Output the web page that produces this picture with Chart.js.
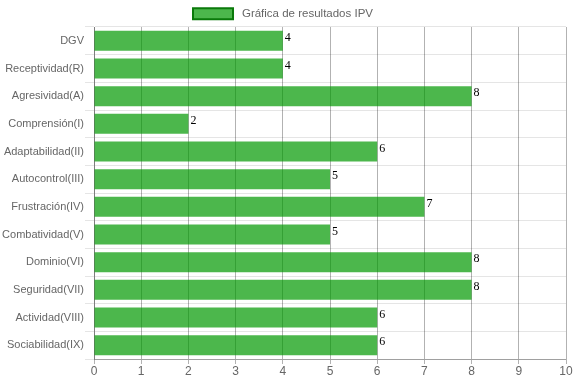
<!DOCTYPE html>
<html>
<head>
<meta charset="utf-8">
<script src="https://cdn.jsdelivr.net/npm/chart.js@4/dist/chart.umd.min.js"></script>
<style>
  html, body { margin: 0; padding: 0; background: #fff; }
  #wrap { width: 574px; height: 383px; }
</style>
</head>
<body>
<div id="wrap"><canvas id="ipvChart"></canvas></div>
<script>
// datos de la gráfica
const categorias = ['DGV', 'Receptividad(R)', 'Agresividad(A)', 'Comprensión(I)', 'Adaptabilidad(II)',
  'Autocontrol(III)', 'Frustración(IV)', 'Combatividad(V)', 'Dominio(VI)', 'Seguridad(VII)',
  'Actividad(VIII)', 'Sociabilidad(IX)'];
const resultados = [4, 4, 8, 2, 6, 5, 7, 5, 8, 8, 6, 6];
const serieNombre = 'Gráfica de resultados IPV';

Chart.defaults.font.family = 'Arial, "Liberation Sans", Helvetica, sans-serif';
Chart.defaults.font.size = 12;
Chart.defaults.color = '#666';

// etiquetas con el valor al final de cada barra
const valorPlugin = {
  id: 'valorPlugin',
  afterInit(chart) {
    // altura fija de la leyenda
    const fitOrig = chart.legend.fit;
    chart.legend.fit = function () {
      fitOrig.call(this);
      this.height = 27;
    };
  },
  afterDatasetsDraw(chart) {
    const ctx = chart.ctx;
    ctx.save();
    ctx.font = '12px "Liberation Serif", "Times New Roman", serif';
    ctx.fillStyle = '#000';
    ctx.textAlign = 'left';
    ctx.textBaseline = 'alphabetic';
    chart.getDatasetMeta(0).data.forEach(function (bar, i) {
      ctx.fillText(resultados[i], bar.x + 2, bar.y);
    });
    ctx.restore();
  }
};

new Chart(document.getElementById('ipvChart'), {
  type: 'bar',
  data: {
    labels: categorias,
    datasets: [{
      label: serieNombre,
      data: resultados,
      backgroundColor: 'rgba(0, 153, 0, 0.7)',
      borderColor: '#0a7a0a',
      borderWidth: 0,
      categoryPercentage: 0.8,
      barPercentage: 0.9
    }]
  },
  options: {
    indexAxis: 'y',
    responsive: true,
    maintainAspectRatio: false,
    animation: false,
    layout: { padding: { left: 0, right: 8, top: 0, bottom: 0 } },
    plugins: {
      tooltip: { enabled: false },
      legend: {
        position: 'top',
        labels: {
          boxWidth: 40,
          boxHeight: 11,
          padding: 8,
          font: { size: 11.5 },
          generateLabels: function () {
            return [{
              text: ' ' + serieNombre,
              fillStyle: 'rgba(0, 153, 0, 0.7)',
              strokeStyle: '#0a7a0a',
              lineWidth: 2,
              fontColor: '#666',
              datasetIndex: 0
            }];
          }
        }
      }
    },
    scales: {
      x: {
        min: 0,
        max: 10,
        ticks: { stepSize: 1, color: '#666', padding: 0 },
        grid: { color: 'rgba(0,0,0,0.3)', tickLength: 5 },
        border: { color: 'rgba(0,0,0,0.3)' },
        afterFit: function (scale) { scale.height = 24; }
      },
      y: {
        ticks: { color: '#666', padding: 1, font: { size: 11 } },
        grid: { color: 'rgba(0,0,0,0.1)', tickLength: 9, offset: true },
        border: { color: 'rgba(0,0,0,0.3)' },
        afterFit: function (scale) { scale.width = 94; }
      }
    }
  },
  plugins: [valorPlugin]
});
</script>
</body>
</html>
